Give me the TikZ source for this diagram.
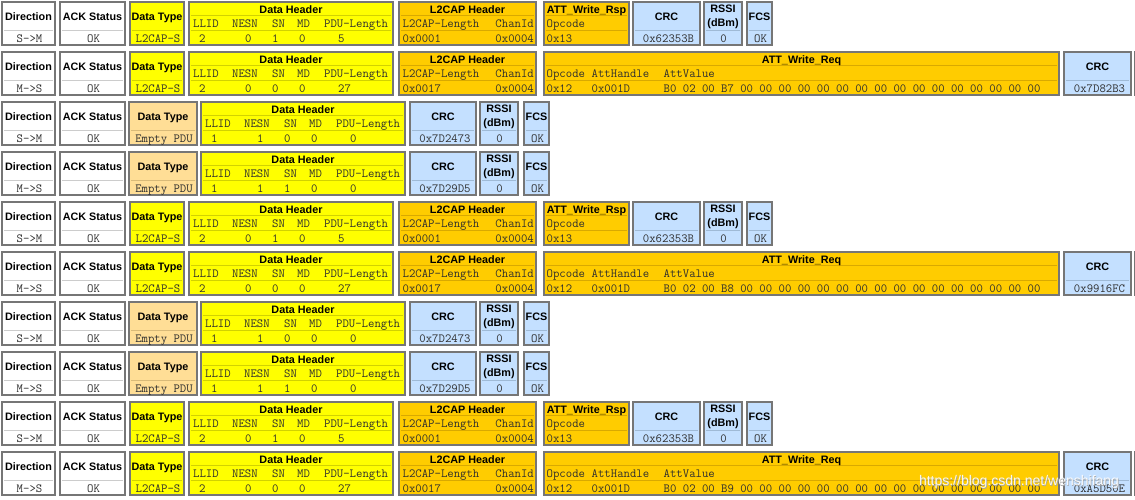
\documentclass[tikz,border=0pt]{standalone}
\usepackage{fontspec}
\usetikzlibrary{calc}
\newfontfamily\hdrfam{Liberation Sans}
\newcommand\hdrfont{\hdrfam\bfseries\fontsize{10.8}{12}\selectfont}
\newcommand\cellfont{\ttfamily\fontsize{12.4}{14}\selectfont}
\definecolor{bordc}{HTML}{767676}
\definecolor{fW}{HTML}{FFFFFF}\definecolor{sW}{HTML}{CCCCCC}
\definecolor{fY}{HTML}{FFFF00}\definecolor{sY}{HTML}{D2D200}
\definecolor{fO}{HTML}{FFCC00}\definecolor{sO}{HTML}{D9A900}
\definecolor{fL}{HTML}{FFDE96}\definecolor{sL}{HTML}{D9BA78}
\definecolor{fB}{HTML}{C4E0FF}\definecolor{sB}{HTML}{9FBAD6}
\definecolor{txt}{HTML}{2E2E2E}
\tikzset{
  cell/.style={draw=bordc, line width=1.6pt, inner sep=0pt, minimum height=43.4pt},
  ttl/.style={font=\hdrfont, text=black, inner sep=0pt, anchor=base},
  mono/.style={font=\cellfont, text=txt, inner sep=0pt, anchor=base west},
  monoc/.style={font=\cellfont, text=txt, inner sep=0pt, anchor=base},
  monor/.style={font=\cellfont, text=txt, inner sep=0pt, anchor=base east},
  sepline/.style={line width=0.9pt},
}
% name, left, right, top, colour letter
\newcommand\cellbox[5]{%
  \node[cell, fill=f#5, minimum width={#3-#2-1.6}] (#1) at ({(#2+#3)/2},{#4+22.5}) {};}
% name, left, right, top, colour, title, value
\newcommand\twobox[7]{%
  \cellbox{#1}{#2}{#3}{#4}{#5}
  \draw[sepline, s#5] ($(#1.north west)+(3,29.25)$) -- ($(#1.north east)+(-3,29.25)$);
  \node[ttl] (#1t) at ($(#1.north)+(0,19.75)$) {#6};
  \node[monoc] (#1v) at ($(#1.north)+(1,41.25)$) {#7};}
% name, left, right, top, colour, title
\newcommand\threebox[6]{%
  \cellbox{#1}{#2}{#3}{#4}{#5}
  \draw[sepline, s#5] ($(#1.north west)+(3,14.25)$) -- ($(#1.north east)+(-3,14.25)$);
  \draw[sepline, s#5] ($(#1.north west)+(3,29.25)$) -- ($(#1.north east)+(-3,29.25)$);
  \node[ttl] (#1t) at ($(#1.north)+(0,12.5)$) {#6};}
\newcommand\fld[4]{\node[mono] (#1) at ($(#2.north west)+(#3,26.25)$) {#4};}
\newcommand\val[4]{\node[mono] (#1) at ($(#2.north west)+(#3,41.25)$) {#4};}
\newcommand\fldr[4]{\node[monor] (#1) at ($(#2.north east)+(#3,26.25)$) {#4};}
\newcommand\valr[4]{\node[monor] (#1) at ($(#2.north east)+(#3,41.25)$) {#4};}
% RSSI box: name, left, right, top
\newcommand\rssibox[4]{%
  \cellbox{#1}{#2}{#3}{#4}{B}
  \draw[sepline, sB] ($(#1.north west)+(3,29.25)$) -- ($(#1.north east)+(-3,29.25)$);
  \node[ttl] (#1t) at ($(#1.north)+(0,11.75)$) {RSSI};
  \node[ttl] (#1u) at ($(#1.north)+(0,25.25)$) {(dBm)};
  \node[monoc] (#1v) at ($(#1.north)+(0.5,41.25)$) {0};}
% data header: name, left, top, v1..v5
\newcommand\dhbox[8]{%
  \threebox{#1}{#2}{#2+206}{#3}{Y}{Data Header}
  \fld{#1fa}{#1}{5}{LLID}\fld{#1fb}{#1}{44}{NESN}\fld{#1fc}{#1}{84}{SN}%
  \fld{#1fd}{#1}{109}{MD}\fld{#1fe}{#1}{136}{PDU-Length}%
  \val{#1va}{#1}{11}{#4}\val{#1vb}{#1}{57}{#5}\val{#1vc}{#1}{84}{#6}%
  \val{#1vd}{#1}{111}{#7}\val{#1ve}{#1}{150}{#8}}
% L2CAP header: name, top, length
\newcommand\ltwobox[3]{%
  \threebox{#1}{398}{537}{#2}{O}{L2CAP Header}
  \fld{#1fa}{#1}{4.5}{L2CAP-Length}\fldr{#1fb}{#1}{-3}{ChanId}%
  \val{#1va}{#1}{4.5}{#3}\valr{#1vb}{#1}{-3}{0x0004}}
% row S->M with ATT_Write_Rsp: prefix, top, crc
\newcommand\rowA[3]{%
  \twobox{#1dir}{1}{56}{#2}{W}{Direction}{S->M}
  \twobox{#1ack}{59}{126}{#2}{W}{ACK Status}{OK}
  \twobox{#1typ}{129}{185}{#2}{Y}{Data Type}{L2CAP-S}
  \dhbox{#1dh}{188}{#2}{2}{0}{1}{0}{5}
  \ltwobox{#1l2}{#2}{0x0001}
  \threebox{#1att}{543}{630}{#2}{O}{ATT\_Write\_Rsp}
  \fld{#1atfa}{#1att}{3.5}{Opcode}\val{#1atva}{#1att}{3.5}{0x13}
  \twobox{#1crc}{632}{701}{#2}{B}{CRC}{\hspace*{2pt}#3}
  \rssibox{#1rs}{703}{743}{#2}
  \twobox{#1fcs}{746}{773}{#2}{B}{FCS}{OK}}
% row M->S with ATT_Write_Req: prefix, top, byte, crc
\newcommand\rowB[4]{%
  \twobox{#1dir}{1}{56}{#2}{W}{Direction}{M->S}
  \twobox{#1ack}{59}{126}{#2}{W}{ACK Status}{OK}
  \twobox{#1typ}{129}{185}{#2}{Y}{Data Type}{L2CAP-S}
  \dhbox{#1dh}{188}{#2}{2}{0}{0}{0}{27}
  \ltwobox{#1l2}{#2}{0x0017}
  \threebox{#1att}{543}{1060}{#2}{O}{ATT\_Write\_Req}
  \fld{#1atfa}{#1att}{3.5}{Opcode}\fld{#1atfb}{#1att}{48.5}{AttHandle}\fld{#1atfc}{#1att}{120.5}{AttValue}%
  \val{#1atva}{#1att}{3.5}{0x12}\val{#1atvb}{#1att}{48.5}{0x001D}%
  \val{#1atvc}{#1att}{120.5}{B0 02 00 #3 00 00 00 00 00 00 00 00 00 00 00 00 00 00 00 00}
  \twobox{#1crc}{1063}{1132}{#2}{B}{CRC}{\hspace*{2pt}#4}
  \cellbox{#1rs}{1134}{1174}{#2}{B}}
% empty PDU row: prefix, top, direction, sn, crc
\newcommand\rowC[5]{%
  \twobox{#1dir}{1}{56}{#2}{W}{Direction}{#3}
  \twobox{#1ack}{59}{126}{#2}{W}{ACK Status}{OK}
  \twobox{#1typ}{128}{198}{#2}{L}{Data Type}{Empty PDU}
  \dhbox{#1dh}{200}{#2}{1}{1}{#4}{0}{0}
  \twobox{#1crc}{409}{477}{#2}{B}{CRC}{\hspace*{2pt}#5}
  \rssibox{#1rs}{479}{519}{#2}
  \twobox{#1fcs}{523}{550}{#2}{B}{FCS}{OK}}
\begin{document}
\begin{tikzpicture}[x=1pt,y=-1pt]
\useasboundingbox (0,0) rectangle (1135,500);
\clip (0,0) rectangle (1135,500);
\fill[white] (0,0) rectangle (1135,500);
\rowA{ra}{1}{0x62353B}
\rowB{rb}{51}{B7}{0x7D82B3}
\rowC{rc}{101}{S->M}{0}{0x7D2473}
\rowC{rd}{151}{M->S}{1}{0x7D29D5}
\rowA{re}{201}{0x62353B}
\rowB{rf}{251}{B8}{0x9916FC}
\rowC{rg}{301}{S->M}{0}{0x7D2473}
\rowC{rh}{351}{M->S}{1}{0x7D29D5}
\rowA{ri}{401}{0x62353B}
\rowB{rj}{451}{B9}{0xA5D50E}
\node[font=\hdrfam\fontsize{14}{16}\selectfont, text=gray!70, anchor=center] (wms) at (1019.6,482.6) {https://blog.csdn.net/wenshifang};
\node[font=\hdrfam\fontsize{14}{16}\selectfont, text=white, opacity=0.9, anchor=center] (wm) at (1019,482) {https://blog.csdn.net/wenshifang};
\end{tikzpicture}
\end{document}
